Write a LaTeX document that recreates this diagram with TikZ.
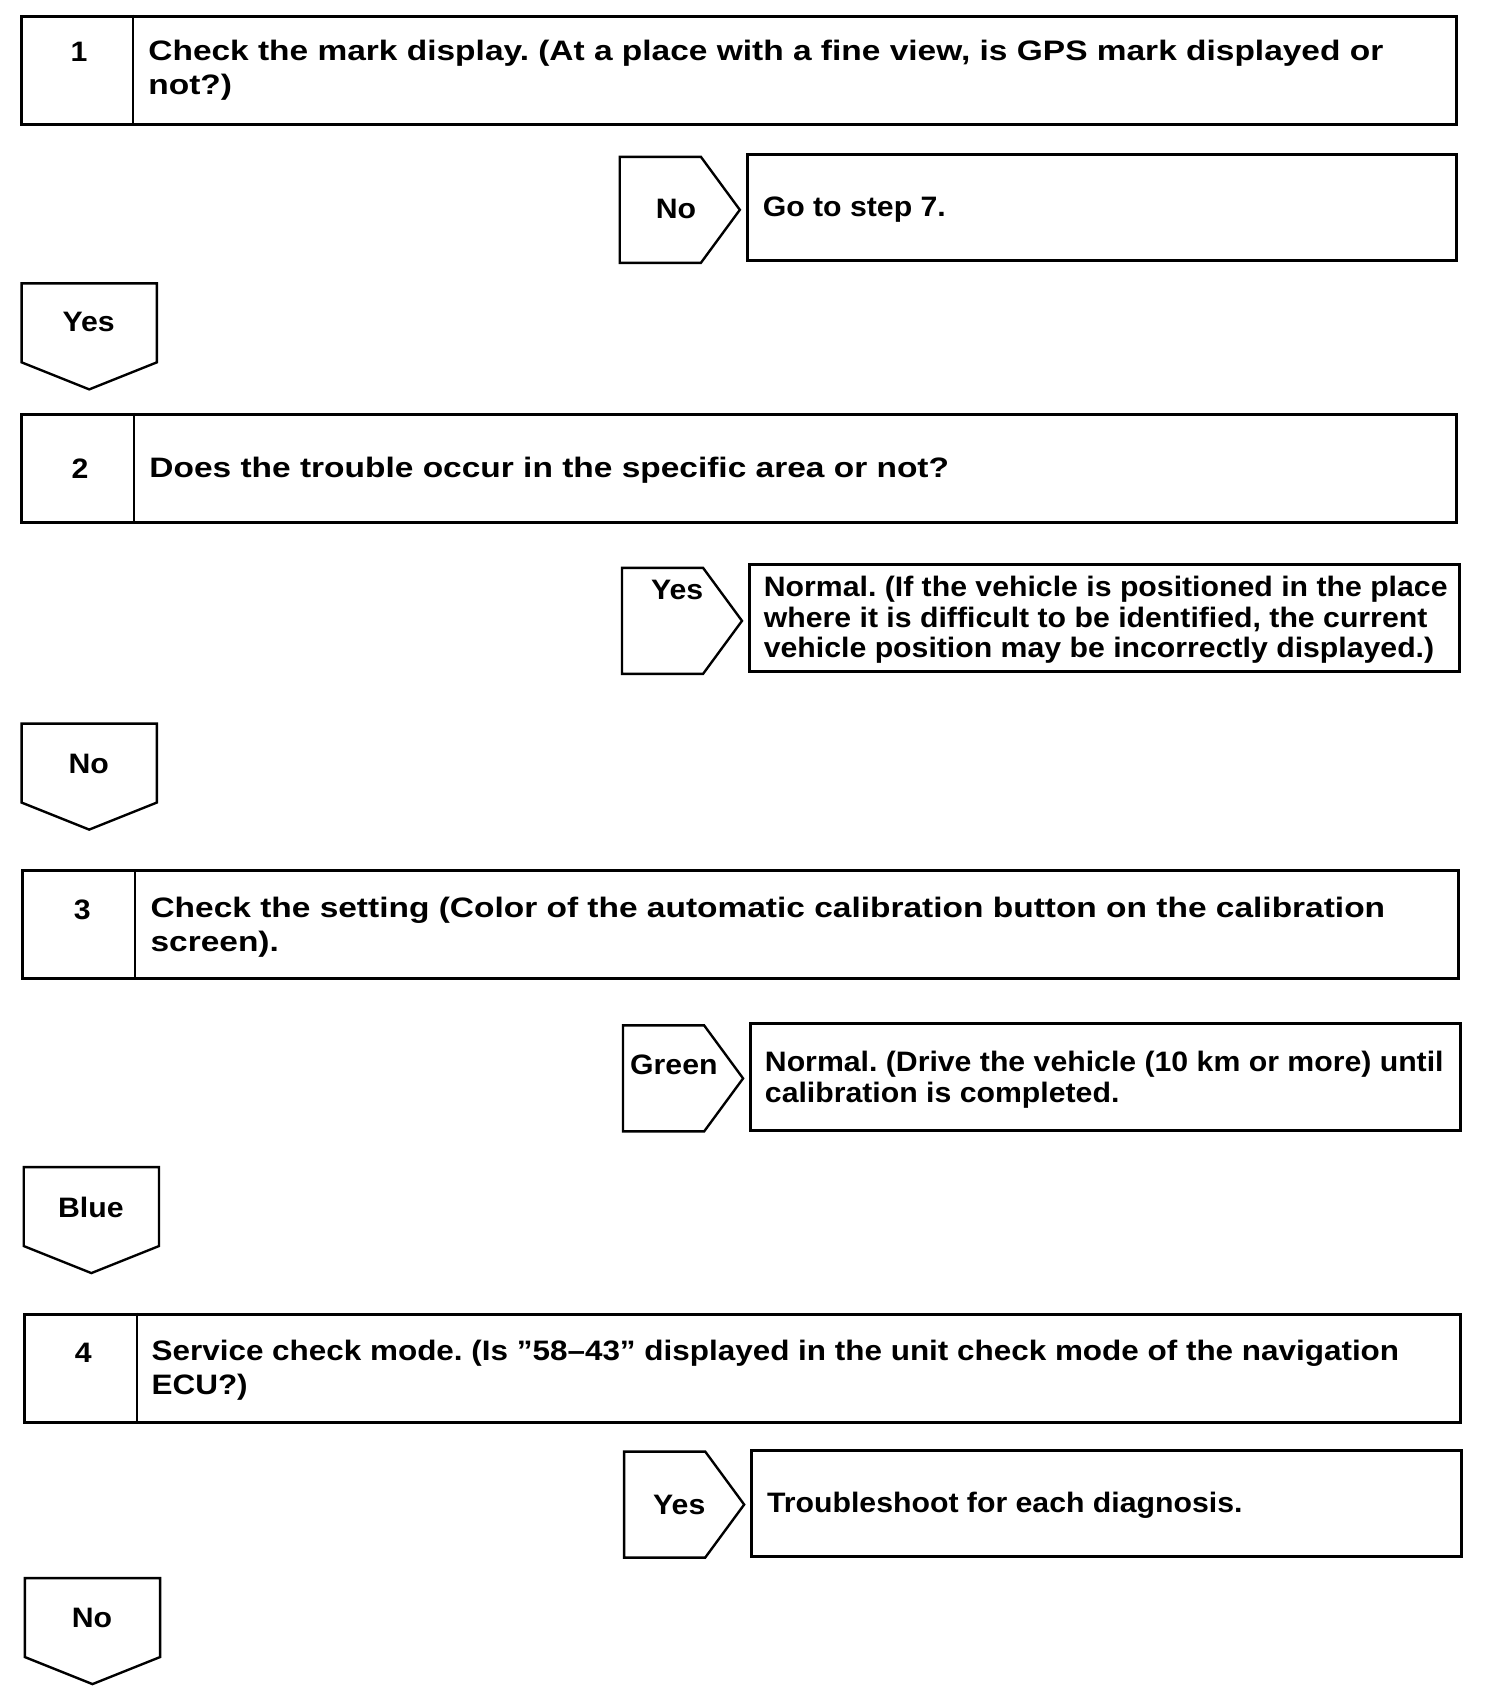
\documentclass[tikz,border=0pt]{standalone}
\usepackage{fontspec}
\setmainfont{Liberation Sans}
\newfontfamily\stepfont{Liberation Sans}[FakeStretch=1.19]
\newfontfamily\stepfourfont{Liberation Sans}[FakeStretch=1.118]
\newfontfamily\resfont{Liberation Sans}[FakeStretch=1.075]
\frenchspacing
\begin{document}
\begin{tikzpicture}[x=1pt,y=-1pt,line join=miter,
  box/.style={draw,line width=2.8pt,rectangle,inner sep=0pt},
  tagline/.style={draw,line width=2.2pt},
  divider/.style={draw,line width=2pt},
  txt/.style={font=\stepfont\fontsize{26}{31.5}\selectfont\bfseries\frenchspacing,align=left,anchor=west,inner sep=0pt},
  txtfour/.style={txt,font=\stepfourfont\fontsize{26}{31.5}\selectfont\bfseries\frenchspacing},
  rtxt/.style={txt,font=\resfont\fontsize{26}{28.5}\selectfont\bfseries\frenchspacing},
  lbl/.style={font=\resfont\fontsize{26}{31}\selectfont\bfseries,anchor=center,inner sep=0pt},
  rtag/.pic={\draw[tagline] (0,0) -- (75,0) -- (111,49) -- (75,98) -- (0,98) -- cycle;},
  dtag/.pic={\draw[tagline] (0,0) -- (125,0) -- (125,73) -- (62.5,98) -- (0,73) -- cycle;}]
\useasboundingbox (0,0) rectangle (1390,1568);

% Step 1
\node[box,minimum width=1327pt,minimum height=100pt] (b1) at (683.5,65) {};
\draw[divider] ([xshift=104pt]b1.north west) -- ([xshift=104pt]b1.south west);
\node[lbl] (n1) at (73,48) {1};
\node[txt] (t1) at (137,65) {Check the mark display. (At a place with a fine view, is GPS mark displayed or\\not?)};

\pic at (573,145) {rtag};
\node[lbl] (a1) at (625,193) {No};
\node[box,minimum width=656pt,minimum height=98pt] (r1) at (1019,192) {};
\node[rtxt] (rt1) at (705,194) {Go to step 7.};

\pic at (20,262) {dtag};
\node[lbl] (d1) at (82,298) {Yes};

% Step 2
\node[box,minimum width=1327pt,minimum height=100pt] (b2) at (683.5,433) {};
\draw[divider] ([xshift=105pt]b2.north west) -- ([xshift=105pt]b2.south west);
\node[lbl] (n2) at (74,433) {2};
\node[txt] (t2) at (138,435) {Does the trouble occur in the specific area or not?};

\pic at (575,525) {rtag};
\node[lbl] (a2) at (626,545) {Yes};
\node[box,minimum width=656pt,minimum height=99pt] (r2) at (1021,571.5) {};
\node[rtxt] (rt2) at (706,573) {Normal. (If the vehicle is positioned in the place\\where it is difficult to be identified, the current\\vehicle position may be incorrectly displayed.)};

\pic at (20,669) {dtag};
\node[lbl] (d2) at (82,706) {No};

% Step 3
\node[box,minimum width=1327pt,minimum height=100pt] (b3) at (684.5,855) {};
\draw[divider] ([xshift=105pt]b3.north west) -- ([xshift=105pt]b3.south west);
\node[lbl] (n3) at (76,841) {3};
\node[txt] (t3) at (139,857) {Check the setting (Color of the automatic calibration button on the calibration\\screen).};

\pic at (576,948) {rtag};
\node[lbl] (a3) at (623,984) {Green};
\node[box,minimum width=656pt,minimum height=99pt] (r3) at (1022,995.5) {};
\node[rtxt] (rt3) at (707,998) {Normal. (Drive the vehicle (10 km or more) until\\calibration is completed.};

\pic at (22,1079) {dtag};
\node[lbl] (d3) at (84,1116) {Blue};

% Step 4
\node[box,minimum width=1327pt,minimum height=100pt] (b4) at (686.5,1265) {};
\draw[divider] ([xshift=105pt]b4.north west) -- ([xshift=105pt]b4.south west);
\node[lbl] (n4) at (77,1251) {4};
\node[txtfour] (t4) at (140,1266.5) {Service check mode. (Is ”58–43” displayed in the unit check mode of the navigation\\ECU?)};

\pic at (577,1342) {rtag};
\node[lbl] (a4) at (628,1391) {Yes};
\node[box,minimum width=656pt,minimum height=98pt] (r4) at (1023,1390) {};
\node[rtxt] (rt4) at (709,1392) {Troubleshoot for each diagnosis.};

\pic at (23,1459) {dtag};
\node[lbl] (d4) at (85,1496) {No};
\end{tikzpicture}
\end{document}
